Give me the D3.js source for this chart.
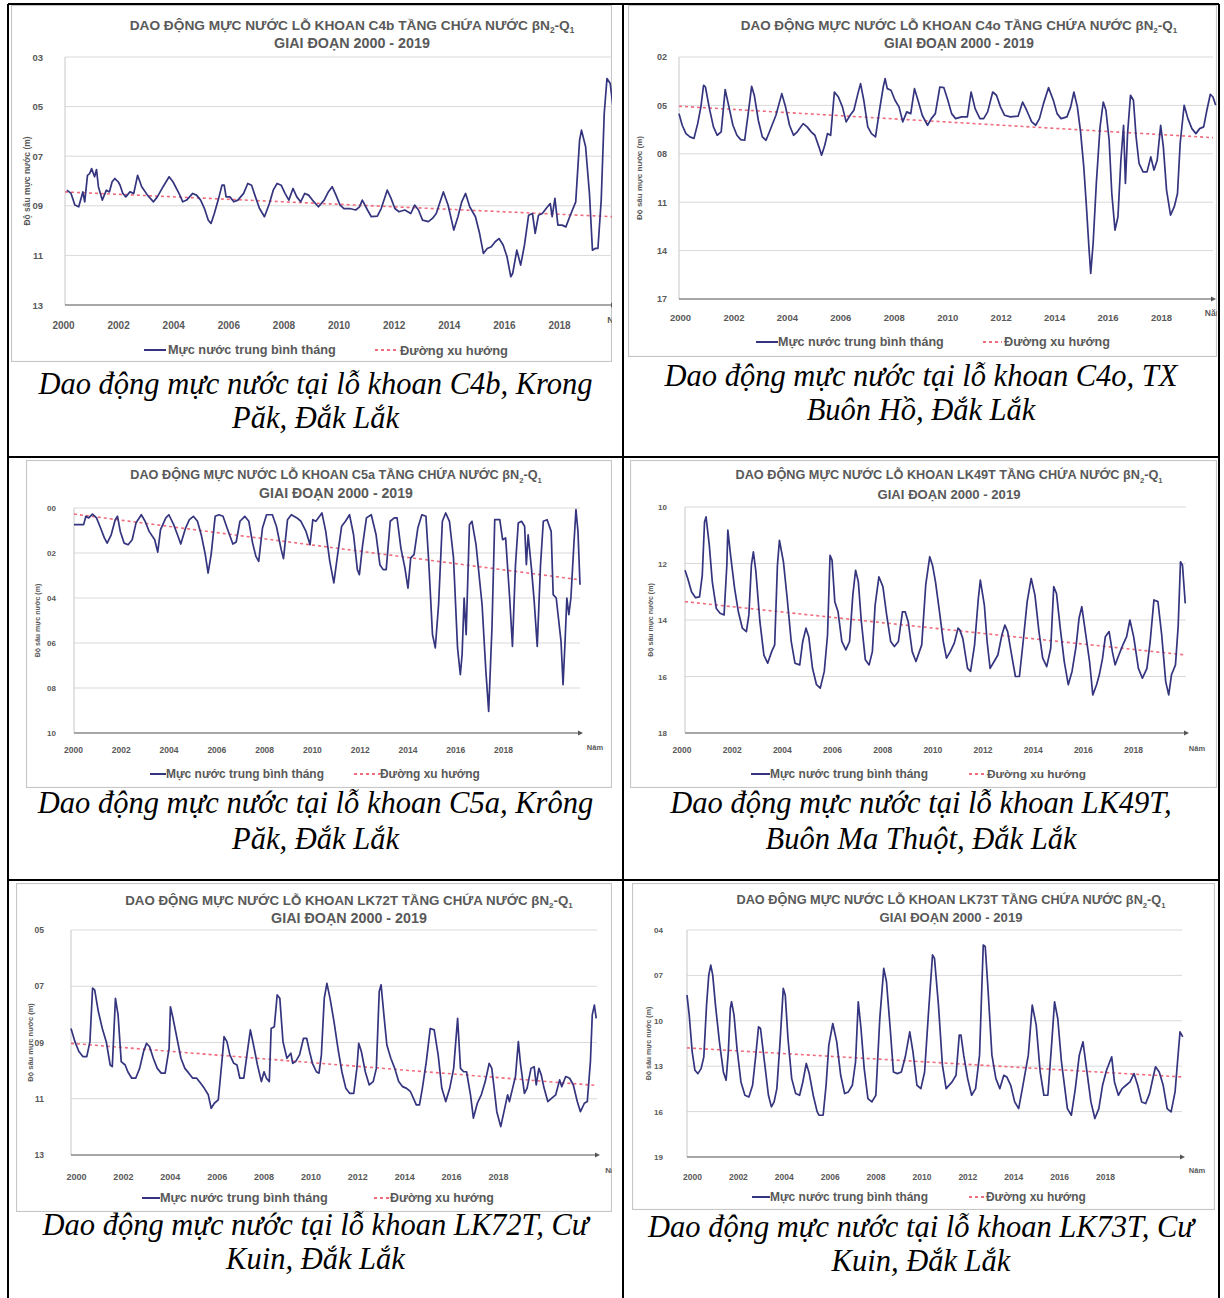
<!DOCTYPE html>
<html><head><meta charset="utf-8">
<script src="https://cdn.jsdelivr.net/npm/d3@7"></script>
<style>body{margin:0;background:#fff}svg{display:block}</style>
</head><body>
<svg id="fig" width="1224" height="1298"></svg>
<script>
// ---------- DATA (year, depth in m) ----------
const yearLabels = [2000,2002,2004,2006,2008,2010,2012,2014,2016,2018];
const legendLabels = ["Mực nước trung bình tháng","Đường xu hướng"];
const wellNames = ["C4b","C4o","C5a","LK49T","LK72T","LK73T"];
const captions = [
 ["Dao động mực nước tại lỗ khoan C4b, Krong","Păk, Đắk Lắk"],
 ["Dao động mực nước tại lỗ khoan C4o, TX","Buôn Hồ, Đắk Lắk"],
 ["Dao động mực nước tại lỗ khoan C5a, Krông","Păk, Đắk Lắk"],
 ["Dao động mực nước tại lỗ khoan LK49T,","Buôn Ma Thuột, Đắk Lắk"],
 ["Dao động mực nước tại lỗ khoan LK72T, Cư","Kuin, Đắk Lắk"],
 ["Dao động mực nước tại lỗ khoan LK73T, Cư","Kuin, Đắk Lắk"]
];
const c4bTicks=[3,5,7,9,11,13], c4oTicks=[2,5,8,11,14,17], c5aTicks=[0,2,4,6,8,10],
      lk49Ticks=[10,12,14,16,18], lk72Ticks=[5,7,9,11,13], lk73Ticks=[4,7,10,13,16,19];
const c4bTrend=[[2000,8.44],[2020,9.44]], c4oTrend=[[2000,5.05],[2020,7.0]], c5aTrend=[[2000,0.27],[2020,3.19]],
      lk49Trend=[[2000,13.35],[2020,15.24]], lk72Trend=[[2000,9.03],[2020,10.53]], lk73Trend=[[2000,11.79],[2020,13.71]];

const c4b=[[2000.07,8.37],[2000.22,8.5],[2000.36,8.97],[2000.5,9.04],[2000.57,8.77],[2000.65,8.44],[2000.72,8.84],[2000.82,7.77],[2000.9,7.7],[2000.97,7.5],[2001.08,7.83],[2001.15,7.54],[2001.22,8.23],[2001.36,8.77],[2001.51,8.37],[2001.62,8.44],[2001.72,8.03],[2001.82,7.9],[2001.94,8.03],[2002.01,8.17],[2002.11,8.5],[2002.22,8.64],[2002.37,8.44],[2002.51,8.5],[2002.65,7.77],[2002.8,8.23],[2003.01,8.57],[2003.23,8.84],[2003.37,8.64],[2003.58,8.23],[2003.8,7.83],[2003.94,8.03],[2004.16,8.5],[2004.3,8.84],[2004.44,8.77],[2004.66,8.5],[2004.8,8.57],[2004.95,8.77],[2005.09,9.11],[2005.23,9.58],[2005.33,9.71],[2005.45,9.31],[2005.59,8.77],[2005.73,8.17],[2005.81,8.17],[2005.88,8.64],[2006.02,8.64],[2006.16,8.84],[2006.31,8.77],[2006.52,8.5],[2006.67,8.1],[2006.81,8.17],[2006.95,8.64],[2007.1,9.11],[2007.28,9.44],[2007.46,8.91],[2007.6,8.37],[2007.74,8.1],[2007.89,8.17],[2008.03,8.5],[2008.17,8.77],[2008.32,8.3],[2008.46,8.64],[2008.6,8.84],[2008.75,8.5],[2008.89,8.57],[2009.03,8.77],[2009.25,9.04],[2009.46,8.77],[2009.61,8.44],[2009.75,8.23],[2009.89,8.57],[2010.04,8.97],[2010.18,9.11],[2010.39,9.11],[2010.61,9.17],[2010.75,9.04],[2010.85,8.77],[2011.04,9.17],[2011.18,9.44],[2011.4,9.42],[2011.54,9.11],[2011.76,8.37],[2011.9,8.7],[2012.04,9.11],[2012.19,9.24],[2012.4,9.17],[2012.62,9.31],[2012.76,8.97],[2012.9,9.17],[2013.05,9.58],[2013.26,9.64],[2013.41,9.51],[2013.55,9.31],[2013.69,8.84],[2013.81,8.44],[2013.98,8.97],[2014.12,9.64],[2014.19,9.98],[2014.34,9.44],[2014.48,8.84],[2014.62,8.5],[2014.77,9.04],[2014.98,9.44],[2015.13,10.11],[2015.27,10.92],[2015.41,10.72],[2015.56,10.65],[2015.7,10.45],[2015.84,10.32],[2015.99,10.58],[2016.13,11.05],[2016.27,11.86],[2016.34,11.72],[2016.49,10.79],[2016.63,11.39],[2016.77,10.58],[2016.92,9.38],[2017.06,9.31],[2017.16,10.11],[2017.28,9.38],[2017.42,9.31],[2017.56,9.11],[2017.71,8.91],[2017.78,9.44],[2017.88,8.7],[2017.99,9.78],[2018.14,9.78],[2018.28,9.85],[2018.42,9.44],[2018.64,8.84],[2018.78,6.36],[2018.85,5.95],[2019.0,6.62],[2019.14,8.5],[2019.25,10.79],[2019.35,10.72],[2019.45,10.72],[2019.57,8.77],[2019.68,5.28],[2019.78,3.87],[2019.9,4.07],[2020.0,5.01]];

const c4o=[[2000.0,5.51],[2000.12,6.23],[2000.26,6.75],[2000.41,6.95],[2000.56,7.05],[2000.7,6.13],[2000.82,5.09],[2000.92,3.75],[2000.99,3.86],[2001.14,5.2],[2001.29,6.33],[2001.43,6.85],[2001.58,6.64],[2001.73,4.02],[2001.87,5.09],[2002.02,6.23],[2002.17,6.85],[2002.31,7.12],[2002.46,7.16],[2002.6,5.4],[2002.72,3.82],[2002.82,4.37],[2002.97,5.92],[2003.12,6.95],[2003.26,7.16],[2003.41,6.54],[2003.63,5.61],[2003.85,4.27],[2003.99,5.09],[2004.14,6.23],[2004.29,6.85],[2004.43,6.64],[2004.65,6.13],[2004.8,6.33],[2004.95,6.64],[2005.09,6.85],[2005.24,7.57],[2005.34,8.09],[2005.46,7.47],[2005.56,6.75],[2005.68,6.85],[2005.82,4.17],[2005.97,4.48],[2006.12,5.09],[2006.26,6.02],[2006.41,5.61],[2006.55,5.3],[2006.7,4.27],[2006.8,3.65],[2006.92,4.68],[2007.07,6.33],[2007.21,6.75],[2007.36,6.95],[2007.51,5.3],[2007.65,3.86],[2007.72,3.34],[2007.8,3.96],[2007.94,4.06],[2008.09,4.68],[2008.24,5.09],[2008.38,6.02],[2008.53,5.4],[2008.68,5.51],[2008.82,3.96],[2008.97,4.79],[2009.11,5.61],[2009.31,6.23],[2009.45,5.82],[2009.6,5.51],[2009.77,3.86],[2009.92,3.9],[2010.07,4.68],[2010.21,5.51],[2010.36,5.82],[2010.58,5.71],[2010.8,5.71],[2010.94,4.17],[2011.09,5.2],[2011.27,5.82],[2011.41,5.82],[2011.56,5.4],[2011.75,4.17],[2011.89,4.37],[2012.04,5.09],[2012.19,5.61],[2012.41,5.71],[2012.7,5.67],[2012.87,4.79],[2013.02,5.3],[2013.21,6.02],[2013.36,6.23],[2013.5,5.82],[2013.65,4.89],[2013.84,3.9],[2014.02,4.68],[2014.16,5.51],[2014.31,5.82],[2014.53,5.71],[2014.67,5.09],[2014.79,4.17],[2014.92,5.09],[2015.04,6.64],[2015.16,8.81],[2015.26,11.28],[2015.36,13.97],[2015.42,15.41],[2015.51,13.56],[2015.63,9.84],[2015.77,6.33],[2015.89,4.79],[2015.99,5.3],[2016.11,7.16],[2016.21,10.46],[2016.33,12.73],[2016.44,11.9],[2016.55,8.4],[2016.65,6.23],[2016.72,9.84],[2016.8,6.75],[2016.91,4.37],[2017.02,4.68],[2017.12,6.95],[2017.23,8.6],[2017.38,9.12],[2017.53,9.12],[2017.67,8.19],[2017.79,9.01],[2017.91,8.4],[2018.04,6.23],[2018.14,7.57],[2018.26,10.25],[2018.41,11.8],[2018.55,11.28],[2018.67,10.46],[2018.77,7.36],[2018.92,4.99],[2019.06,5.82],[2019.21,6.44],[2019.36,6.75],[2019.5,6.44],[2019.65,6.33],[2019.77,5.3],[2019.9,4.31],[2020.0,4.48],[2020.1,4.99]];

const c5a=[[2000.0,0.74],[2000.27,0.74],[2000.38,0.74],[2000.47,0.37],[2000.58,0.44],[2000.73,0.27],[2000.89,0.44],[2001.05,0.89],[2001.2,1.33],[2001.31,1.56],[2001.47,1.19],[2001.63,0.52],[2001.72,0.37],[2001.83,1.04],[2001.98,1.56],[2002.14,1.63],[2002.3,1.41],[2002.45,0.67],[2002.66,0.3],[2002.81,0.59],[2002.97,1.04],[2003.19,1.41],[2003.31,1.96],[2003.42,0.96],[2003.63,0.44],[2003.75,0.3],[2003.94,0.74],[2004.09,1.19],[2004.22,1.6],[2004.41,0.89],[2004.56,0.52],[2004.72,0.37],[2004.88,0.59],[2005.03,1.19],[2005.19,2.07],[2005.3,2.89],[2005.42,2.07],[2005.58,0.37],[2005.73,0.3],[2005.89,0.37],[2006.05,0.89],[2006.28,1.6],[2006.41,1.51],[2006.56,0.59],[2006.75,0.37],[2006.91,0.59],[2007.06,1.56],[2007.19,2.15],[2007.3,2.37],[2007.45,0.89],[2007.61,0.3],[2007.84,0.3],[2008.0,0.81],[2008.19,1.85],[2008.28,2.25],[2008.44,0.52],[2008.59,0.3],[2008.81,0.44],[2008.97,0.59],[2009.17,1.04],[2009.33,1.63],[2009.44,0.52],[2009.56,0.59],[2009.8,0.22],[2009.95,1.04],[2010.11,2.37],[2010.27,3.33],[2010.42,2.07],[2010.58,0.81],[2010.73,0.59],[2010.89,0.3],[2011.05,1.19],[2011.2,2.74],[2011.28,2.96],[2011.41,1.63],[2011.56,0.44],[2011.75,0.3],[2011.94,1.19],[2012.09,2.52],[2012.22,2.74],[2012.34,2.74],[2012.5,0.59],[2012.66,0.44],[2012.77,0.44],[2012.92,1.78],[2013.08,2.67],[2013.2,3.56],[2013.31,2.22],[2013.44,2.07],[2013.59,0.89],[2013.75,0.3],[2013.91,0.37],[2014.02,2.37],[2014.17,5.63],[2014.28,6.22],[2014.41,4.3],[2014.56,0.59],[2014.69,0.22],[2014.84,0.59],[2015.0,2.22],[2015.16,6.22],[2015.27,7.41],[2015.34,6.52],[2015.42,4.0],[2015.5,5.63],[2015.63,0.74],[2015.73,0.59],[2015.89,1.63],[2016.13,4.3],[2016.28,7.26],[2016.39,9.04],[2016.52,5.33],[2016.63,0.52],[2016.83,0.52],[2016.94,1.41],[2017.06,1.33],[2017.22,4.0],[2017.33,6.15],[2017.45,2.52],[2017.56,0.67],[2017.69,0.59],[2017.81,0.81],[2017.88,2.52],[2017.95,1.19],[2018.08,2.67],[2018.19,4.15],[2018.31,6.15],[2018.44,2.52],[2018.55,0.59],[2018.7,0.52],[2018.86,1.04],[2018.94,3.85],[2019.06,4.0],[2019.25,5.93],[2019.33,7.85],[2019.41,5.93],[2019.48,4.0],[2019.56,4.74],[2019.64,4.0],[2019.75,1.78],[2019.84,0.07],[2019.92,1.04],[2020.0,3.41]];

const lk49=[[2000.0,12.24],[2000.11,12.53],[2000.26,13.0],[2000.42,13.21],[2000.58,13.18],[2000.69,12.41],[2000.78,10.53],[2000.84,10.35],[2000.97,11.35],[2001.09,12.65],[2001.25,13.59],[2001.4,13.76],[2001.56,13.82],[2001.67,12.06],[2001.71,10.82],[2001.82,11.71],[2001.98,12.88],[2002.13,13.71],[2002.29,14.29],[2002.45,14.41],[2002.55,13.82],[2002.65,12.06],[2002.73,11.59],[2002.83,12.29],[2002.99,14.06],[2003.15,15.24],[2003.3,15.53],[2003.46,15.12],[2003.58,14.88],[2003.69,12.06],[2003.77,11.18],[2003.93,11.94],[2004.08,13.24],[2004.24,14.76],[2004.39,15.53],[2004.58,15.59],[2004.7,14.76],[2004.83,14.29],[2004.94,14.59],[2005.09,15.71],[2005.25,16.29],[2005.4,16.41],[2005.56,15.82],[2005.69,14.53],[2005.79,11.71],[2005.87,11.88],[2005.98,13.35],[2006.11,13.71],[2006.26,14.76],[2006.42,15.06],[2006.57,14.76],[2006.7,13.12],[2006.81,12.24],[2006.92,12.65],[2007.04,14.06],[2007.2,15.41],[2007.35,15.59],[2007.48,15.12],[2007.59,13.47],[2007.74,12.47],[2007.9,12.82],[2008.05,13.82],[2008.21,14.76],[2008.36,14.94],[2008.52,14.76],[2008.68,13.71],[2008.79,13.71],[2008.91,14.06],[2009.07,15.12],[2009.22,15.47],[2009.45,14.88],[2009.61,12.76],[2009.77,11.76],[2009.88,12.06],[2010.0,12.65],[2010.16,13.71],[2010.31,14.76],[2010.44,15.35],[2010.59,15.12],[2010.75,14.82],[2010.9,14.29],[2010.97,14.35],[2011.09,14.65],[2011.28,15.71],[2011.4,15.82],[2011.56,14.88],[2011.71,13.24],[2011.79,12.59],[2011.95,13.47],[2012.06,14.76],[2012.18,15.71],[2012.34,15.47],[2012.49,15.24],[2012.65,14.53],[2012.77,14.18],[2012.88,14.41],[2013.04,15.24],[2013.19,16.0],[2013.35,16.0],[2013.5,14.76],[2013.66,13.35],[2013.82,12.53],[2013.97,13.12],[2014.13,14.41],[2014.28,15.35],[2014.44,15.65],[2014.6,15.0],[2014.72,12.82],[2014.83,13.06],[2014.98,14.29],[2015.14,15.47],[2015.3,16.29],[2015.45,15.82],[2015.61,14.94],[2015.73,13.94],[2015.84,13.53],[2016.0,14.53],[2016.15,15.47],[2016.28,16.65],[2016.43,16.29],[2016.54,15.94],[2016.67,15.35],[2016.78,14.59],[2016.93,14.41],[2017.06,15.12],[2017.17,15.59],[2017.32,15.24],[2017.48,14.88],[2017.63,14.59],[2017.76,14.0],[2017.91,14.59],[2018.1,15.71],[2018.26,16.06],[2018.44,15.71],[2018.57,14.76],[2018.72,13.29],[2018.88,13.35],[2019.03,14.53],[2019.19,16.18],[2019.31,16.65],[2019.42,15.94],[2019.58,15.59],[2019.69,14.18],[2019.78,11.94],[2019.86,12.06],[2019.97,13.41]];

const lk72=[[2000.0,8.5],[2000.15,8.97],[2000.3,9.32],[2000.45,9.5],[2000.6,9.5],[2000.72,8.97],[2000.82,7.07],[2000.9,7.13],[2001.04,7.9],[2001.19,8.5],[2001.34,8.97],[2001.49,9.8],[2001.57,9.86],[2001.69,7.43],[2001.79,8.02],[2001.91,9.68],[2002.06,9.8],[2002.16,10.04],[2002.31,10.27],[2002.46,10.27],[2002.61,9.92],[2002.76,9.32],[2002.87,9.03],[2002.99,9.15],[2003.13,9.56],[2003.28,9.92],[2003.43,10.09],[2003.58,10.09],[2003.73,9.21],[2003.78,7.73],[2003.88,8.14],[2004.03,8.85],[2004.18,9.56],[2004.33,9.92],[2004.48,10.09],[2004.63,10.27],[2004.78,10.27],[2004.93,10.45],[2005.07,10.63],[2005.22,10.86],[2005.33,11.34],[2005.45,11.16],[2005.6,11.04],[2005.75,9.56],[2005.82,8.79],[2005.93,8.97],[2006.04,9.44],[2006.19,9.74],[2006.31,9.8],[2006.42,10.27],[2006.57,10.27],[2006.69,9.44],[2006.82,8.55],[2006.94,9.09],[2007.09,9.8],[2007.24,10.39],[2007.34,10.04],[2007.43,10.27],[2007.54,10.39],[2007.61,8.5],[2007.73,8.44],[2007.84,7.31],[2007.94,7.43],[2008.06,8.97],[2008.21,9.56],[2008.36,9.38],[2008.43,9.74],[2008.54,9.68],[2008.69,9.44],[2008.84,8.85],[2008.96,8.85],[2009.07,9.32],[2009.18,9.74],[2009.33,10.04],[2009.43,10.09],[2009.52,9.44],[2009.63,7.43],[2009.73,6.9],[2009.85,7.43],[2010.0,8.26],[2010.15,9.21],[2010.3,10.04],[2010.45,10.63],[2010.6,10.81],[2010.75,10.81],[2010.87,9.92],[2010.94,9.03],[2011.04,9.32],[2011.19,10.04],[2011.34,10.51],[2011.49,10.39],[2011.61,9.92],[2011.72,7.19],[2011.79,6.95],[2011.91,8.14],[2012.01,9.09],[2012.16,9.56],[2012.31,9.92],[2012.46,10.39],[2012.61,10.57],[2012.76,10.63],[2012.91,10.75],[2013.13,11.22],[2013.25,11.22],[2013.36,10.63],[2013.51,9.68],[2013.66,8.5],[2013.81,8.55],[2013.96,9.44],[2014.1,10.63],[2014.25,11.1],[2014.4,10.63],[2014.55,9.92],[2014.7,8.14],[2014.81,9.92],[2014.93,10.04],[2015.04,10.04],[2015.19,10.86],[2015.3,11.69],[2015.45,11.16],[2015.6,10.86],[2015.75,10.39],[2015.9,9.74],[2016.0,9.92],[2016.09,10.63],[2016.19,11.46],[2016.34,11.99],[2016.49,11.34],[2016.6,10.86],[2016.67,11.1],[2016.79,10.63],[2016.9,10.21],[2017.01,8.97],[2017.09,9.74],[2017.24,10.81],[2017.34,10.63],[2017.49,9.92],[2017.61,9.86],[2017.69,10.51],[2017.79,9.92],[2017.88,10.15],[2017.99,10.63],[2018.13,11.1],[2018.28,10.98],[2018.43,10.86],[2018.58,10.33],[2018.66,10.57],[2018.81,10.21],[2018.96,10.27],[2019.1,10.51],[2019.25,11.1],[2019.37,11.46],[2019.52,11.16],[2019.63,11.1],[2019.75,9.68],[2019.82,8.02],[2019.9,7.67],[2019.97,8.14]];

const lk73=[[2000.0,8.3],[2000.09,9.63],[2000.21,12.05],[2000.32,13.27],[2000.44,13.49],[2000.57,13.16],[2000.68,12.38],[2000.79,8.96],[2000.88,6.98],[2000.96,6.32],[2001.04,6.98],[2001.15,8.96],[2001.31,11.39],[2001.47,13.38],[2001.58,13.93],[2001.67,12.05],[2001.75,9.18],[2001.8,8.74],[2001.9,9.63],[2002.02,11.83],[2002.18,14.04],[2002.34,14.92],[2002.5,15.03],[2002.65,14.26],[2002.78,12.27],[2002.89,10.4],[2002.97,10.51],[2003.13,12.71],[2003.29,14.92],[2003.41,15.69],[2003.52,15.36],[2003.63,14.48],[2003.76,11.39],[2003.89,7.86],[2003.97,8.3],[2004.08,11.17],[2004.23,13.82],[2004.39,14.81],[2004.55,14.92],[2004.68,14.04],[2004.82,12.82],[2004.94,13.49],[2005.1,14.92],[2005.26,16.02],[2005.34,16.24],[2005.5,16.24],[2005.62,14.26],[2005.73,11.61],[2005.89,10.18],[2006.05,11.39],[2006.21,13.6],[2006.37,14.81],[2006.52,14.7],[2006.68,14.26],[2006.81,12.71],[2006.92,8.74],[2007.03,10.51],[2007.16,13.16],[2007.31,15.14],[2007.47,15.36],[2007.63,14.92],[2007.79,9.85],[2007.95,6.54],[2008.06,7.42],[2008.21,10.51],[2008.34,13.38],[2008.5,13.49],[2008.66,13.38],[2008.82,12.38],[2009.0,10.73],[2009.13,12.05],[2009.29,14.26],[2009.45,14.48],[2009.6,13.38],[2009.76,9.4],[2009.92,5.65],[2010.0,5.88],[2010.16,8.96],[2010.32,12.93],[2010.47,14.48],[2010.71,14.04],[2010.87,13.6],[2011.0,10.95],[2011.07,10.95],[2011.18,12.27],[2011.34,13.82],[2011.5,14.92],[2011.66,14.48],[2011.82,12.27],[2011.97,4.99],[2012.05,5.1],[2012.16,7.86],[2012.32,12.27],[2012.48,13.82],[2012.64,14.48],[2012.8,13.6],[2012.92,13.71],[2013.08,14.26],[2013.24,15.36],[2013.4,15.8],[2013.55,14.48],[2013.79,12.27],[2013.95,8.96],[2014.11,10.29],[2014.27,13.38],[2014.42,14.92],[2014.58,14.92],[2014.74,11.39],[2014.85,8.74],[2014.98,9.85],[2015.13,12.71],[2015.37,15.8],[2015.53,16.24],[2015.69,14.48],[2015.85,12.27],[2016.0,11.39],[2016.16,13.38],[2016.32,15.36],[2016.48,16.46],[2016.64,15.8],[2016.79,14.26],[2016.95,13.27],[2017.16,12.38],[2017.27,14.04],[2017.43,14.92],[2017.58,14.48],[2017.74,14.26],[2017.9,14.04],[2018.06,13.49],[2018.21,14.26],[2018.37,15.36],[2018.53,15.47],[2018.69,14.81],[2018.85,13.6],[2018.93,13.04],[2019.08,13.38],[2019.24,14.26],[2019.4,15.8],[2019.56,16.02],[2019.72,14.7],[2019.83,12.49],[2019.92,10.73],[2020.03,11.06]];

// ---------- LAYOUT ----------
const panels = [
 {data:c4b, trend:c4bTrend, ticks:c4bTicks, frame:[11,5,612,362], x0:65, x1:613, yTop:57, yBot:305, lab:[63,559], labY:325, pad:22, yTitleX:27, title:[352,25,445,43,156], legY:350, leg:[144,166,168,336,375,399,400,508], nam:[617,320], fs:10, cap:[315.5,394,428]},
 {data:c4o, trend:c4oTrend, ticks:c4oTicks, frame:[628,5,1217,357], x0:679, x1:1213, yTop:57, yBot:299, lab:[680,1161], labY:318, pad:12, yTitleX:639, title:[959,25,437,43,150], legY:342, leg:[756,778,778,944,983,1002,1004,1110], nam:[1214,313], fs:9.5, cap:[921,386,420]},
 {data:c5a, trend:c5aTrend, ticks:c5aTicks, frame:[26,460,612,788], x0:74, x1:580, yTop:508, yBot:733, lab:[73,503], labY:750, pad:18, yTitleX:38, title:[336,475,412,493,154], legY:774, leg:[150,166,166,324,354,380,380,480], nam:[595,747], fs:8.5, cap:[315.5,813,849]},
 {data:lk49, trend:lk49Trend, ticks:lk49Ticks, frame:[630,460,1217,788], x0:685, x1:1186, yTop:507, yBot:733, lab:[681.5,1133], labY:750, pad:18, yTitleX:651, title:[949,475,427,494,143], legY:774, leg:[751,770,770,928,969,987,987,1086], nam:[1197,748], fs:8.5, cap:[921,813,849]},
 {data:lk72, trend:lk72Trend, ticks:lk72Ticks, frame:[16,883,612,1212], x0:71, x1:597, yTop:930, yBot:1155, lab:[76,498], labY:1177, pad:27, yTitleX:30, title:[349,900,448,918,156], legY:1198, leg:[142,160,160,328,374,390,390,494], nam:[614,1170], fs:9, cap:[315.5,1235,1269]},
 {data:lk73, trend:lk73Trend, ticks:lk73Ticks, frame:[632,883,1215,1210], x0:687, x1:1182, yTop:930, yBot:1157, lab:[692,1105], labY:1177, pad:24, yTitleX:649, title:[951,900,429,917,143], legY:1197, leg:[752,770,770,928,969,985,986,1086], nam:[1197,1170], fs:8.5, cap:[921,1237,1271]}
];

const svg = d3.select("#fig");
const LINE = "#34347f", TREND = "#f06c7c", GRAY = "#595959";
const SANS = "'Liberation Sans', Arial, sans-serif";

function fit(sel, w){
  const n = sel.node(); const cur = n.getComputedTextLength();
  const fs = parseFloat(sel.attr("font-size"));
  if (cur > 0) sel.attr("font-size", (fs * w / cur).toFixed(2));
}

const defs = svg.append("defs");

panels.forEach((p, i) => {
  const [fx0, fy0, fx1, fy1] = p.frame;
  defs.append("clipPath").attr("id", "clip" + i)
    .append("rect").attr("x", fx0).attr("y", fy0).attr("width", fx1 - fx0).attr("height", fy1 - fy0);
  const g = svg.append("g").attr("clip-path", `url(#clip${i})`);
  g.append("rect").attr("x", fx0 + .5).attr("y", fy0 + .5).attr("width", fx1 - fx0 - 1).attr("height", fy1 - fy0 - 1)
    .attr("fill", "#fff").attr("stroke", "#c6c6c6").attr("stroke-width", 1.2);

  const ext = d3.extent(p.ticks);
  const x = d3.scaleLinear().domain([2000, 2020]).range([p.x0, p.x1]);
  const y = d3.scaleLinear().domain(ext).range([p.yTop, p.yBot]);
  const xl = d3.scaleLinear().domain([2000, 2018]).range(p.lab);

  g.append("g").selectAll("line").data(p.ticks.slice(0, -1)).join("line")
    .attr("x1", p.x0).attr("x2", p.x1).attr("y1", d => y(d)).attr("y2", d => y(d))
    .attr("stroke", "#d9d9d9").attr("stroke-width", 1);
  g.append("line").attr("x1", p.x0).attr("x2", p.x0).attr("y1", p.yTop).attr("y2", p.yBot)
    .attr("stroke", "#c8c8c8").attr("stroke-width", 1);
  const ya = g.append("g").attr("transform", `translate(${p.x0},0)`)
    .call(d3.axisLeft(y).tickValues(p.ticks).tickFormat(d3.format("02d")).tickSize(0).tickPadding(p.pad));
  ya.select(".domain").remove();
  ya.selectAll("text").attr("font-family", SANS).attr("font-weight", "bold").attr("font-size", p.fs - 0.5).attr("fill", GRAY);
  g.append("line").attr("x1", p.x0).attr("x2", p.x1).attr("y1", p.yBot).attr("y2", p.yBot)
    .attr("stroke", "#8a8a8a").attr("stroke-width", 1.3);
  g.append("path").attr("d", `M${p.x1 + 3},${p.yBot}L${p.x1 - 2},${p.yBot - 2.5}L${p.x1 - 2},${p.yBot + 2.5}Z`).attr("fill", "#555");
  const xa = g.append("g").attr("transform", `translate(0,${p.labY})`)
    .call(d3.axisBottom(xl).tickValues(yearLabels).tickFormat(d => String(d)).tickSize(0));
  xa.select(".domain").remove();
  xa.selectAll("text").attr("y", 0).attr("dy", "0.35em").attr("font-family", SANS).attr("font-weight", "bold")
    .attr("font-size", p.fs).attr("fill", GRAY);
  g.append("text").attr("x", p.nam[0]).attr("y", p.nam[1]).attr("dy", "0.35em").attr("text-anchor", "middle")
    .attr("font-family", SANS).attr("font-weight", "bold").attr("font-size", p.fs - 1).attr("fill", GRAY).text("Năm");
  g.append("text").attr("transform", `translate(${p.yTitleX},${(p.yTop + p.yBot) / 2}) rotate(-90)`)
    .attr("text-anchor", "middle").attr("dy", "0.35em").attr("font-family", SANS).attr("font-size", p.fs - 1.5)
    .attr("font-weight", "bold").attr("fill", GRAY).text("Độ sâu mực nước (m)");

  g.append("path").datum(p.trend).attr("d", d3.line().x(d => x(d[0])).y(d => y(d[1])))
    .attr("fill", "none").attr("stroke", TREND).attr("stroke-width", 1.6).attr("stroke-dasharray", "3,3");
  g.append("path").datum(p.data).attr("d", d3.line().x(d => x(d[0])).y(d => y(d[1])))
    .attr("fill", "none").attr("stroke", LINE).attr("stroke-width", 1.7).attr("stroke-linejoin", "round");

  const [tcx, ty1, tw1, ty2, tw2] = p.title;
  const t1 = g.append("text").attr("x", tcx).attr("y", ty1).attr("dy", "0.35em").attr("text-anchor", "middle")
    .attr("font-family", SANS).attr("font-weight", "bold").attr("font-size", 11).attr("fill", GRAY);
  t1.append("tspan").text(`DAO ĐỘNG MỰC NƯỚC LỖ KHOAN ${wellNames[i]} TẦNG CHỨA NƯỚC βN`);
  t1.append("tspan").attr("font-size", "0.6em").attr("dy", "0.45em").text("2");
  t1.append("tspan").attr("dy", "-0.27em").text("-Q");
  t1.append("tspan").attr("font-size", "0.6em").attr("dy", "0.45em").text("1");
  fit(t1, tw1);
  const t2 = g.append("text").attr("x", tcx).attr("y", ty2).attr("dy", "0.35em").attr("text-anchor", "middle")
    .attr("font-family", SANS).attr("font-weight", "bold").attr("font-size", 11).attr("fill", GRAY)
    .text("GIAI ĐOẠN 2000 - 2019");
  fit(t2, tw2);

  const L = p.leg;
  g.append("line").attr("x1", L[0]).attr("x2", L[1]).attr("y1", p.legY).attr("y2", p.legY)
    .attr("stroke", LINE).attr("stroke-width", 2);
  const lt1 = g.append("text").attr("x", L[2]).attr("y", p.legY).attr("dy", "0.35em").attr("font-family", SANS)
    .attr("font-weight", "bold").attr("font-size", 10).attr("fill", GRAY).text(legendLabels[0]);
  fit(lt1, L[3] - L[2]);
  g.append("line").attr("x1", L[4]).attr("x2", L[5]).attr("y1", p.legY).attr("y2", p.legY)
    .attr("stroke", TREND).attr("stroke-width", 1.8).attr("stroke-dasharray", "3,3");
  const lt2 = g.append("text").attr("x", L[6]).attr("y", p.legY).attr("dy", "0.35em").attr("font-family", SANS)
    .attr("font-weight", "bold").attr("font-size", 10).attr("fill", GRAY).text(legendLabels[1]);
  fit(lt2, L[7] - L[6]);

  const cap = svg.append("text").attr("text-anchor", "middle").attr("font-family", "'Liberation Serif','Times New Roman',serif")
    .attr("font-style", "italic").attr("font-size", 30.5).attr("fill", "#000");
  cap.append("tspan").attr("x", p.cap[0]).attr("y", p.cap[1]).text(captions[i][0]);
  cap.append("tspan").attr("x", p.cap[0]).attr("y", p.cap[2]).text(captions[i][1]);
});

const tb = svg.append("g").attr("stroke", "#000").attr("stroke-width", 2);
[[8,4,8,1298],[1219,4,1219,1298],[623,4,623,1298],[8,4,1219,4],[8,457,1219,457],[8,880,1219,880]]
  .forEach(l => tb.append("line").attr("x1", l[0]).attr("y1", l[1]).attr("x2", l[2]).attr("y2", l[3]));
</script>
</body></html>
